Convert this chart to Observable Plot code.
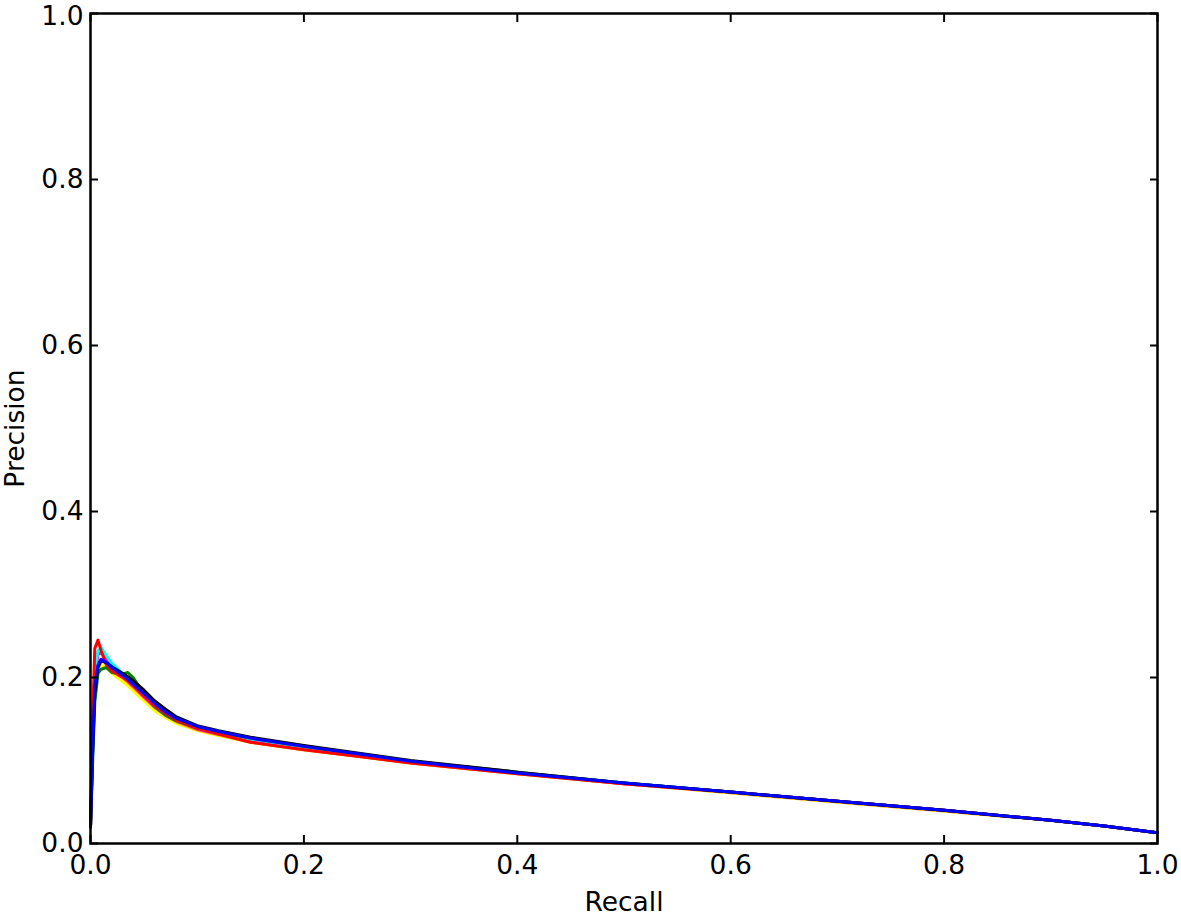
<!DOCTYPE html>
<html>
<head>
<meta charset="utf-8">
<script src="https://cdn.jsdelivr.net/npm/d3@7"></script>
<script src="https://cdn.jsdelivr.net/npm/@observablehq/plot@0.6"></script>
<style>
  html, body { margin: 0; padding: 0; background: #fff; }
  svg { display: block; }
</style>
</head>
<body>
<div id="chart"></div>
<script>
// Shared recall grid
const recall = [0, 0.002, 0.004, 0.007, 0.01, 0.015, 0.02, 0.03, 0.035, 0.04, 0.05, 0.06, 0.07, 0.08, 0.1, 0.12, 0.15, 0.2, 0.25, 0.3, 0.4, 0.5, 0.6, 0.7, 0.8, 0.9, 0.95, 1.0];

// Precision per series
const precYellow  = [0.02, 0.11, 0.18, 0.210, 0.215, 0.212, 0.205, 0.195, 0.190, 0.184, 0.172, 0.160, 0.152, 0.145, 0.136, 0.130, 0.122, 0.113, 0.105, 0.097, 0.084, 0.072, 0.061, 0.050, 0.039, 0.028, 0.021, 0.013];
const precOrange  = [0.02, 0.12, 0.19, 0.218, 0.222, 0.216, 0.210, 0.200, 0.194, 0.188, 0.176, 0.164, 0.155, 0.147, 0.137, 0.131, 0.122, 0.113, 0.105, 0.097, 0.084, 0.072, 0.061, 0.050, 0.039, 0.028, 0.021, 0.013];
const precMagenta = [0.02, 0.12, 0.20, 0.228, 0.230, 0.222, 0.214, 0.202, 0.196, 0.190, 0.177, 0.165, 0.155, 0.148, 0.138, 0.132, 0.124, 0.115, 0.106, 0.098, 0.085, 0.072, 0.062, 0.051, 0.040, 0.028, 0.021, 0.013];
const precCyan    = [0.02, 0.13, 0.21, 0.232, 0.236, 0.226, 0.217, 0.205, 0.199, 0.193, 0.180, 0.168, 0.158, 0.150, 0.140, 0.134, 0.126, 0.116, 0.107, 0.098, 0.085, 0.073, 0.062, 0.051, 0.040, 0.028, 0.021, 0.013];
const precGreen   = [0.02, 0.10, 0.17, 0.205, 0.210, 0.212, 0.206, 0.204, 0.206, 0.200, 0.180, 0.165, 0.155, 0.148, 0.139, 0.134, 0.127, 0.117, 0.108, 0.099, 0.086, 0.073, 0.062, 0.051, 0.040, 0.028, 0.021, 0.013];
const precRed     = [0.02, 0.15, 0.235, 0.245, 0.232, 0.215, 0.208, 0.200, 0.196, 0.190, 0.178, 0.166, 0.157, 0.149, 0.139, 0.132, 0.122, 0.113, 0.105, 0.097, 0.084, 0.072, 0.062, 0.051, 0.040, 0.028, 0.021, 0.013];
const precBlack   = [0.02, 0.11, 0.18, 0.212, 0.220, 0.218, 0.213, 0.205, 0.201, 0.196, 0.185, 0.172, 0.162, 0.153, 0.142, 0.136, 0.128, 0.118, 0.109, 0.100, 0.086, 0.073, 0.062, 0.051, 0.040, 0.028, 0.021, 0.013];
const precBlue    = [0.02, 0.11, 0.19, 0.215, 0.222, 0.218, 0.212, 0.203, 0.198, 0.192, 0.181, 0.169, 0.159, 0.151, 0.141, 0.135, 0.127, 0.117, 0.108, 0.099, 0.085, 0.073, 0.062, 0.051, 0.040, 0.028, 0.021, 0.013];

const seriesNames = ["yellow", "orange", "magenta", "cyan", "green", "red", "black", "blue"];
const seriesColors = ["#bfbf00", "#ff8c00", "#bf00bf", "#00bfbf", "#008000", "#ff0000", "#000000", "#0000ff"];
const seriesValues = [precYellow, precOrange, precMagenta, precCyan, precGreen, precRed, precBlack, precBlue];

const tickValues = [0, 0.2, 0.4, 0.6, 0.8, 1.0];
const yLabelTicksLower = [0, 0.2, 0.4, 0.6, 0.8];
const yLabelTickTop = [1.0];

const data = [];
seriesNames.forEach((name, i) => {
  seriesValues[i].forEach((p, j) => data.push({series: name, recall: recall[j], precision: p}));
});

const fmt = d3.format(".1f");

const chart = Plot.plot({
  width: 1181,
  height: 915,
  marginLeft: 90,
  marginRight: 24,
  marginTop: 13,
  marginBottom: 72,
  style: {fontFamily: "DejaVu Sans", fontSize: "26.5px", color: "#000", background: "#fff"},
  x: {domain: [0, 1]},
  y: {domain: [0, 1]},
  color: {domain: seriesNames, range: seriesColors},
  marks: [
    Plot.line(data, {x: "recall", y: "precision", z: "series", stroke: "series", strokeWidth: 3, curve: "linear"}),
    Plot.axisX({anchor: "bottom", ticks: tickValues, tickSize: 0, tickPadding: 12, tickFormat: fmt, label: "Recall", labelAnchor: "center", labelArrow: "none", labelOffset: 67}),
    Plot.axisY({anchor: "left", ticks: yLabelTicksLower, tickSize: 0, tickPadding: 7, tickFormat: fmt, label: "Precision", labelAnchor: "center", labelArrow: "none", labelOffset: 85}),
    Plot.axisY({anchor: "left", ticks: yLabelTickTop, tickSize: 0, tickPadding: 7, tickFormat: fmt, label: null, dy: 3}),
    Plot.axisX({anchor: "bottom", ticks: tickValues, tickSize: -8, tickFormat: () => "", label: null, strokeWidth: 2}),
    Plot.axisX({anchor: "top", ticks: tickValues, tickSize: -8, tickFormat: () => "", label: null, strokeWidth: 2}),
    Plot.axisY({anchor: "left", ticks: tickValues, tickSize: -8, tickFormat: () => "", label: null, strokeWidth: 2}),
    Plot.axisY({anchor: "right", ticks: tickValues, tickSize: -8, tickFormat: () => "", label: null, strokeWidth: 2}),
    Plot.frame({stroke: "#000", strokeWidth: 2.5})
  ]
});
document.getElementById("chart").appendChild(chart);
</script>
</body>
</html>
